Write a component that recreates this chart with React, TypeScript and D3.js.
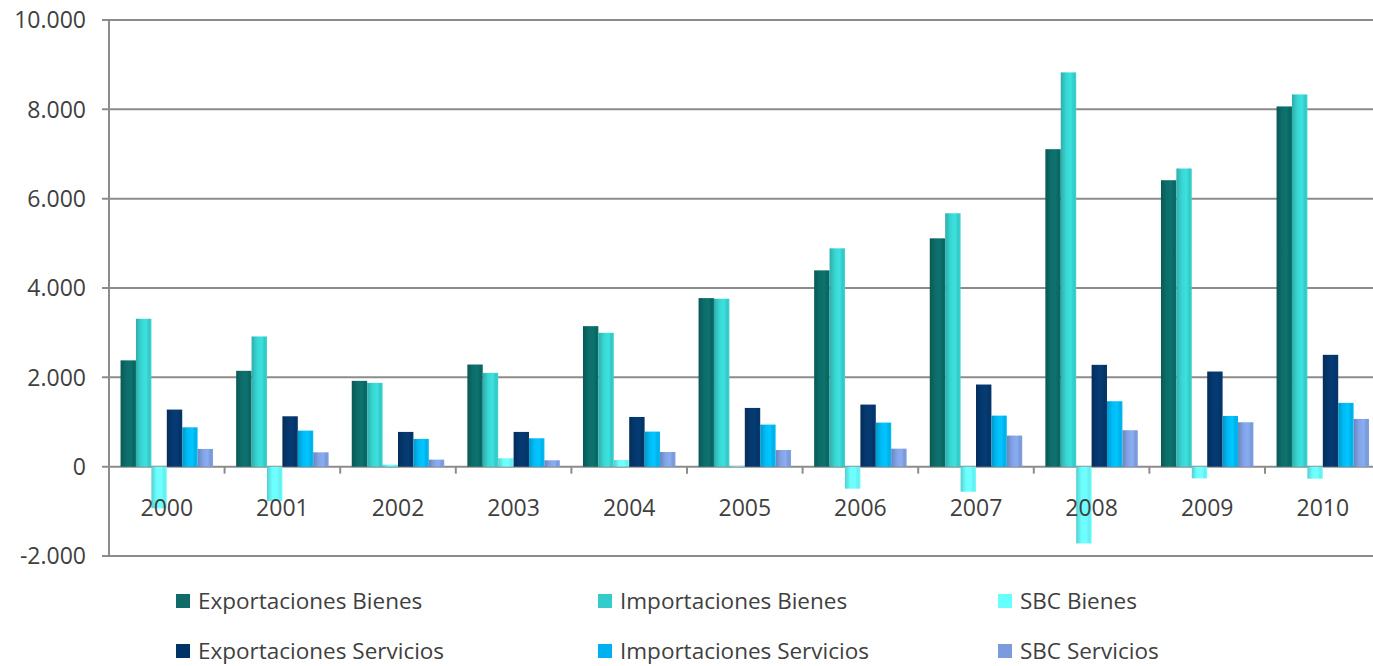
import React from "react";
import * as d3 from "d3";

const years = ["2000","2001","2002","2003","2004","2005","2006","2007","2008","2009","2010"];
const seriesNames = ["Exportaciones Bienes","Importaciones Bienes","SBC Bienes","Exportaciones Servicios","Importaciones Servicios","SBC Servicios"];
const exportacionesBienes = [2380, 2146, 1921, 2287, 3146, 3774, 4395, 5112, 7108, 6413, 8065];
const importacionesBienes = [3311, 2915, 1876, 2100, 2997, 3759, 4888, 5673, 8827, 6675, 8334];
const sbcBienes = [-931, -769, 45, 187, 149, 15, -493, -561, -1719, -262, -269];
const exportacionesServicios = [1278, 1128, 778, 778, 1113, 1315, 1390, 1839, 2280, 2130, 2504];
const importacionesServicios = [881, 807, 621, 635, 785, 942, 987, 1143, 1465, 1136, 1428];
const sbcServicios = [397, 321, 157, 143, 328, 373, 403, 696, 815, 994, 1069];
const yTicks = [-2000, 0, 2000, 4000, 6000, 8000, 10000];

const seriesValues = [exportacionesBienes, importacionesBienes, sbcBienes, exportacionesServicios, importacionesServicios, sbcServicios];
const baseColors = ["#0c6d69", "#38d6d3", "#6bffff", "#05386e", "#00bcf8", "#82a3e6"];
const legendColors = ["#0e6b67", "#33cccc", "#66ffff", "#003366", "#00b0f0", "#7b9bdc"];

const fmt = (v: number) => {
  const s = d3.format(",")(v).replace(/,/g, ".");
  return s.replace("−", "-");
};

export default function App() {
  const W = 1373, H = 666;
  const left = 109;
  const bandW = 115.6;
  const x0 = d3.scaleBand<string>().domain(years).range([left, left + bandW * years.length]).paddingInner(0).paddingOuter(0);
  const barW = bandW / 7.5;
  const groupW = barW * 6;
  const x1 = d3.scaleBand<string>().domain(seriesNames).range([(bandW - groupW) / 2, (bandW + groupW) / 2]);
  const y = d3.scaleLinear().domain([-2000, 10000]).range([556, 20]);
  const font = "'Open Sans', sans-serif";
  const textColor = "#404040";
  const gridColor = "#8c8c8c";

  const legendCols = [176, 598, 998];
  const legendRows = [601, 651];

  return (
    <svg width={W} height={H} style={{ position: "absolute", left: 0, top: 0, display: "block" }}>
      <defs>
        {baseColors.map((c, i) => {
          const dc = d3.color(c)!.darker(0.6).formatHex();
          const bc = d3.color(c)!.brighter(0.15).formatHex();
          return (
            <linearGradient key={i} id={`g${i}`} x1="0" x2="1" y1="0" y2="0">
              <stop offset="0%" stopColor={dc} />
              <stop offset="35%" stopColor={c} />
              <stop offset="65%" stopColor={bc} />
              <stop offset="85%" stopColor={d3.color(c)!.darker(0.2).formatHex()} />
              <stop offset="100%" stopColor={c} />
            </linearGradient>
          );
        })}
      </defs>
      <rect x={0} y={0} width={W} height={H} fill="#ffffff" />
      {yTicks.map((t) => (
        <line key={t} x1={left - 7} x2={W} y1={y(t)} y2={y(t)} stroke={gridColor} strokeWidth={2} />
      ))}
      <line x1={left} x2={left} y1={y(10000)} y2={y(-2000)} stroke={gridColor} strokeWidth={2} />
      {yTicks.map((t) => (
        <text key={t} x={86} y={y(t)} dy="0.36em" textAnchor="end" fontFamily={font} fontSize={23} fill={textColor}>
          {fmt(t)}
        </text>
      ))}
      {years.map((yr) => (
        <line key={yr} x1={x0(yr)!} x2={x0(yr)!} y1={y(0)} y2={y(0) + 7} stroke={gridColor} strokeWidth={2} />
      ))}
      {years.map((yr, i) => (
        <g key={yr} transform={`translate(${x0(yr)},0)`}>
          {seriesNames.map((s, j) => {
            const v = seriesValues[j][i];
            const y0 = y(Math.max(0, v));
            const h = Math.abs(y(v) - y(0));
            return <rect key={s} x={x1(s)!} y={y0} width={x1.bandwidth()} height={h} fill={`url(#g${j})`} />;
          })}
        </g>
      ))}
      {years.map((yr) => (
        <text key={yr} x={x0(yr)! + bandW / 2} y={508} dy="0.36em" textAnchor="middle" fontFamily={font} fontSize={23} fill={textColor}>
          {yr}
        </text>
      ))}
      {seriesNames.map((s, j) => {
        const col = j % 3;
        const row = Math.floor(j / 3);
        const lx = legendCols[col];
        const ly = legendRows[row];
        return (
          <g key={s}>
            <rect x={lx} y={ly - 7} width={14} height={14} fill={legendColors[j]} />
            <text x={lx + 22} y={ly} dy="0.34em" fontFamily={font} fontSize={22.5} fill={textColor}>
              {s}
            </text>
          </g>
        );
      })}
    </svg>
  );
}
